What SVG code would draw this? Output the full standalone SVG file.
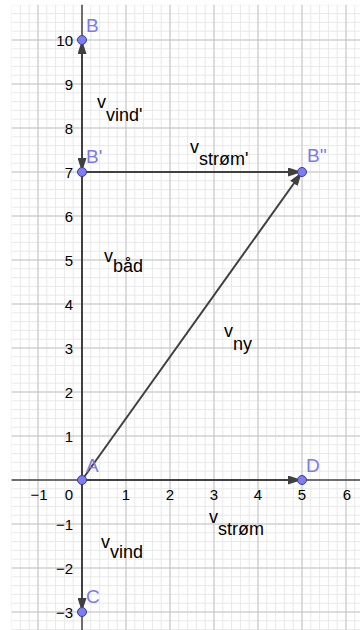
<svg xmlns="http://www.w3.org/2000/svg" width="360" height="630" viewBox="0 0 360 630">
<style>
.tick{font-family:"Liberation Sans",Arial,sans-serif;font-size:15px;fill:#000}
.ty{text-anchor:end}
.tx{text-anchor:middle}
.pl{font-family:"Liberation Sans",Arial,sans-serif;font-size:19px;fill:#7b7be6}
.vl{font-family:"Liberation Sans",Arial,sans-serif;font-size:18px;fill:#000}
.vec{stroke:#404040;stroke-width:2;fill:none}
.pt{fill:#7d7df5;stroke:#3c3c8c;stroke-width:1}
.axis{stroke:#000;stroke-width:1}
</style>
<defs>
<pattern id="minor" patternUnits="userSpaceOnUse" x="81.5" y="479.5" width="8.8" height="8.8">
<path d="M0.5 0V8.8M0 0.5H8.8" stroke="#e8e8e8" stroke-width="1"/>
</pattern>
<pattern id="major" patternUnits="userSpaceOnUse" x="81.5" y="479.5" width="44" height="44">
<path d="M0.5 0V44M0 0.5H44" stroke="#c4c4c4" stroke-width="1"/>
</pattern>
<marker id="ah" markerUnits="userSpaceOnUse" viewBox="0 0 14 9" refX="14" refY="4.5" markerWidth="14" markerHeight="9" orient="auto">
<path d="M0 0L14 4.5L0 9Z" fill="#404040"/>
</marker>
</defs>
<rect width="360" height="630" fill="#fff"/>
<g id="grid">
<rect x="11.6" y="4.8" width="350" height="630" fill="url(#minor)"/>
<rect x="11.6" y="4.8" width="350" height="630" fill="url(#major)"/>
</g>
<g id="axes">
<line class="axis" x1="11.6" y1="480" x2="360" y2="480"/>
<line class="axis" x1="82" y1="4.8" x2="82" y2="630"/>
<text class="tick ty" x="73" y="46">10</text>
<text class="tick ty" x="73" y="90">9</text>
<text class="tick ty" x="73" y="134">8</text>
<text class="tick ty" x="73" y="178">7</text>
<text class="tick ty" x="73" y="222">6</text>
<text class="tick ty" x="73" y="266">5</text>
<text class="tick ty" x="73" y="310">4</text>
<text class="tick ty" x="73" y="354">3</text>
<text class="tick ty" x="73" y="398">2</text>
<text class="tick ty" x="73" y="442">1</text>
<text class="tick ty" x="73" y="530">−1</text>
<text class="tick ty" x="73" y="574">−2</text>
<text class="tick ty" x="73" y="618">−3</text>
<text class="tick tx" x="39" y="500">−1</text>
<text class="tick ty" x="73" y="500">0</text>
<text class="tick tx" x="126" y="500">1</text>
<text class="tick tx" x="170" y="500">2</text>
<text class="tick tx" x="214" y="500">3</text>
<text class="tick tx" x="258" y="500">4</text>
<text class="tick tx" x="302" y="500">5</text>
<text class="tick tx" x="347" y="500">6</text>
</g>
<g id="connectors">
<g id="v_bad">
<line class="vec" x1="82" y1="480" x2="82" y2="40" marker-end="url(#ah)"/>
<text class="vl" x="104" y="262">v<tspan dy="10">båd</tspan></text>
</g>
<g id="v_vind_prime">
<line class="vec" x1="82" y1="40" x2="82" y2="172" marker-end="url(#ah)"/>
<text class="vl" x="97" y="108">v<tspan dy="13">vind'</tspan></text>
</g>
<g id="v_strom_prime">
<line class="vec" x1="82" y1="172" x2="302" y2="172" marker-end="url(#ah)"/>
<text class="vl" x="190" y="153">v<tspan dy="12">strøm'</tspan></text>
</g>
<g id="v_ny">
<line class="vec" x1="82" y1="480" x2="302" y2="172" marker-end="url(#ah)"/>
<text class="vl" x="224" y="337">v<tspan dy="13">ny</tspan></text>
</g>
<g id="v_strom">
<line class="vec" x1="82" y1="480" x2="302" y2="480" marker-end="url(#ah)"/>
<text class="vl" x="209" y="523">v<tspan dy="12">strøm</tspan></text>
</g>
<g id="v_vind">
<line class="vec" x1="82" y1="480" x2="82" y2="612" marker-end="url(#ah)"/>
<text class="vl" x="101" y="548">v<tspan dy="10">vind</tspan></text>
</g>
</g>
<g id="A"><circle class="pt" cx="82" cy="480" r="4.5"/><text class="pl" x="86" y="472">A</text></g>
<g id="B"><circle class="pt" cx="82" cy="40" r="4.5"/><text class="pl" x="86" y="32">B</text></g>
<g id="B1"><circle class="pt" cx="82" cy="172" r="4.5"/><text class="pl" x="86" y="163">B'</text></g>
<g id="B2"><circle class="pt" cx="302" cy="172" r="4.5"/><text class="pl" x="307" y="162">B''</text></g>
<g id="C"><circle class="pt" cx="82" cy="612" r="4.5"/><text class="pl" x="86" y="603">C</text></g>
<g id="D"><circle class="pt" cx="302" cy="480" r="4.5"/><text class="pl" x="306" y="472">D</text></g>
</svg>
